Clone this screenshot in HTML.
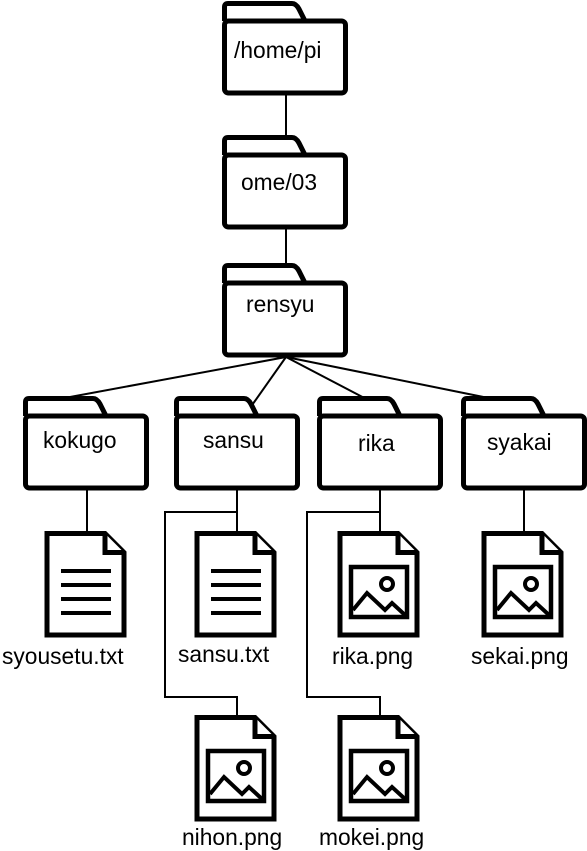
<!DOCTYPE html>
<html><head><meta charset="utf-8"><style>
html,body{margin:0;padding:0;background:#fff;}
svg{display:block;}
text{font-family:"Liberation Sans",sans-serif;font-size:22.8px;fill:#000;}
</style></head><body>
<svg width="587" height="851" viewBox="0 0 587 851" xmlns="http://www.w3.org/2000/svg">
<defs>
<g id="folder" fill="#fff" stroke="#000" stroke-width="5" stroke-linejoin="round">
<path d="M2.5,20 L2.5,6 Q2.5,2.5 6,2.5 L70,2.5 Q74,2.5 77,8 L83,20"/>
<rect x="2.5" y="20" width="121" height="72" rx="4"/>
</g>
<g id="doc" fill="#fff" stroke="#000" stroke-width="5" stroke-linejoin="miter">
<path d="M3,2.5 L61,2.5 L80,21.5 L80,104 L3,104 Z"/>
<path d="M61,2.5 L61,21.5 L80,21.5" fill="#fff"/>
</g>
<g id="txt" stroke="#000" stroke-width="4">
<line x1="17" y1="40" x2="67" y2="40"/><line x1="17" y1="54" x2="67" y2="54"/>
<line x1="17" y1="68" x2="67" y2="68"/><line x1="17" y1="82" x2="67" y2="82"/>
</g>
<g id="img" fill="none" stroke="#000" stroke-width="4.5">
<rect x="14" y="36" width="56" height="50"/>
<circle cx="50" cy="53" r="6" stroke-width="4"/>
<polyline points="16,79 30,62 48,79 55,72 68,84" stroke-width="4"/>
</g>
</defs>
<g stroke="#000" stroke-width="2" fill="none">
<line x1="286" y1="95" x2="286" y2="137"/>
<line x1="286" y1="228" x2="286" y2="265"/>
<line x1="286" y1="357" x2="70" y2="397"/>
<line x1="286" y1="357" x2="250" y2="408"/>
<line x1="286" y1="357" x2="372" y2="402"/>
<line x1="286" y1="357" x2="518" y2="404"/>
<line x1="87" y1="489" x2="87" y2="533"/>
<line x1="524" y1="489" x2="524" y2="533"/>
<polyline points="237,489 237,533"/>
<polyline points="237,512 165,512 165,697 237,697 237,717"/>
<polyline points="380,489 380,533"/>
<polyline points="380,512 307,512 307,697 380,697 380,717"/>
</g>
<use href="#folder" x="222" y="1"/>
<use href="#folder" x="222" y="135"/>
<use href="#folder" x="222" y="263"/>
<use href="#folder" x="23" y="396"/>
<use href="#folder" x="174" y="396"/>
<use href="#folder" x="317" y="396"/>
<use href="#folder" x="461" y="396"/>
<text x="234" y="58">/home/pi</text>
<text x="241" y="190">ome/03</text>
<text x="246" y="312">rensyu</text>
<text x="43" y="448">kokugo</text>
<text x="203" y="448">sansu</text>
<text x="358" y="451">rika</text>
<text x="487" y="450">syakai</text>
<use href="#doc" x="44" y="531"/><use href="#txt" x="44" y="531"/>
<use href="#doc" x="194" y="531"/><use href="#txt" x="194" y="531"/>
<use href="#doc" x="337" y="531"/><use href="#img" x="337" y="531"/>
<use href="#doc" x="481" y="531"/><use href="#img" x="481" y="531"/>
<use href="#doc" x="194" y="715"/><use href="#img" x="194" y="715"/>
<use href="#doc" x="337" y="715"/><use href="#img" x="337" y="715"/>
<text x="2" y="664">syousetu.txt</text>
<text x="178" y="662">sansu.txt</text>
<text x="332" y="664">rika.png</text>
<text x="471" y="664">sekai.png</text>
<text x="182" y="845">nihon.png</text>
<text x="319" y="845">mokei.png</text>
</svg>
</body></html>
